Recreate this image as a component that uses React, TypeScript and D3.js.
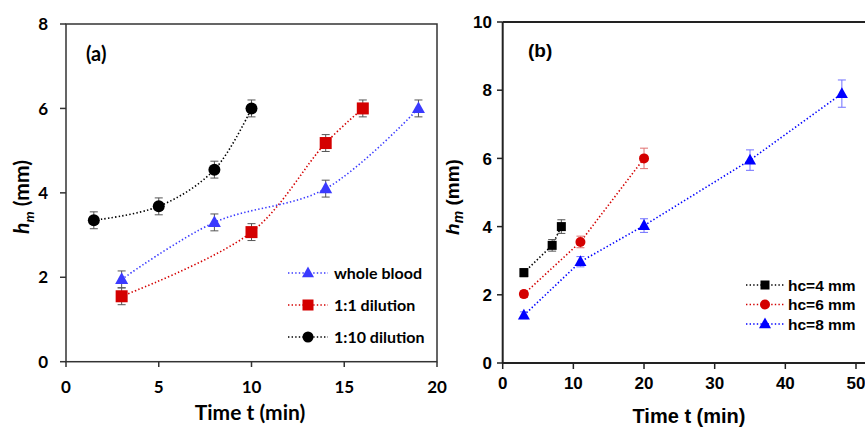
import React from "react";
import * as d3 from "d3";

// Panel (a)
const aWholeT = [3, 8, 14, 19];
const aWholeH = [1.95, 3.3, 4.1, 6.0];
const aWholeE = [0.2, 0.2, 0.2, 0.2];
const a11T = [3, 10, 14, 16];
const a11H = [1.55, 3.07, 5.18, 6.0];
const a11E = [0.2, 0.2, 0.2, 0.2];
const a110T = [1.5, 5, 8, 10];
const a110H = [3.35, 3.68, 4.55, 6.0];
const a110E = [0.2, 0.2, 0.2, 0.2];
const aXTicks = [0, 5, 10, 15, 20];
const aYTicks = [0, 2, 4, 6, 8];
const aLegend = ["whole blood", "1:1 dilution", "1:10 dilution"];

// Panel (b)
const b4T = [3, 7, 8.3];
const b4H = [2.65, 3.45, 4.0];
const b4E = [0.12, 0.17, 0.2];
const b6T = [3, 11, 20];
const b6H = [2.02, 3.55, 6.0];
const b6E = [0.1, 0.17, 0.3];
const b8T = [3, 11, 20, 35, 48];
const b8H = [1.4, 2.97, 4.03, 5.95, 7.9];
const b8E = [0.1, 0.15, 0.2, 0.3, 0.4];
const bXTicks = [0, 10, 20, 30, 40, 50];
const bYTicks = [0, 2, 4, 6, 8, 10];
const bLegend = ["hc=4 mm", "hc=6 mm", "hc=8 mm"];

type Shape = "tri" | "sq" | "circ";

function Marker({ shape, x, y, color, s }: { shape: Shape; x: number; y: number; color: string; s: number }) {
  if (shape === "circ") return <circle cx={x} cy={y} r={s / 2} fill={color} />;
  if (shape === "sq") return <rect x={x - s / 2} y={y - s / 2} width={s} height={s} fill={color} />;
  const h = s * 0.9;
  return <path d={`M${x},${y - h * 0.6} L${x + s / 2},${y + h * 0.4} L${x - s / 2},${y + h * 0.4} Z`} fill={color} />;
}

function Series({ t, h, e, x, y, color, errColor, shape, s, curve }: any) {
  const pts = t.map((v: number, i: number) => [x(v), y(h[i])] as [number, number]);
  const line = d3.line().curve(curve)(pts) || "";
  return (
    <g>
      <path d={line} fill="none" stroke={color} strokeWidth={1.6} strokeDasharray="1.4 2.2" />
      {t.map((v: number, i: number) => {
        const cx = x(v);
        const y1 = y(h[i] + e[i]);
        const y2 = y(h[i] - e[i]);
        return (
          <g key={"e" + i} stroke={errColor} strokeWidth={1}>
            <line x1={cx} x2={cx} y1={y1} y2={y2} />
            <line x1={cx - 4} x2={cx + 4} y1={y1} y2={y1} />
            <line x1={cx - 4} x2={cx + 4} y1={y2} y2={y2} />
          </g>
        );
      })}
      {t.map((v: number, i: number) => (
        <Marker key={"m" + i} shape={shape} x={x(v)} y={y(h[i])} color={color} s={s} />
      ))}
    </g>
  );
}

export default function App() {
  const fa = "Lato, 'Open Sans', sans-serif";
  const fb = "'Liberation Sans', Arial, sans-serif";
  const RED = "#d40000";
  const BLK = "#000";

  // panel a
  const ax = d3.scaleLinear().domain([0, 20]).range([66, 437]);
  const ay = d3.scaleLinear().domain([0, 8]).range([361.7, 24]);
  // panel b
  const bx = d3.scaleLinear().domain([0, 50]).range([502.7, 856]);
  const by = d3.scaleLinear().domain([0, 10]).range([363, 22]);

  const aLegSeries = [
    { color: "#3a3aff", shape: "tri" as Shape, s: 12 },
    { color: RED, shape: "sq" as Shape, s: 11 },
    { color: BLK, shape: "circ" as Shape, s: 11 },
  ];
  const bLegSeries = [
    { color: BLK, shape: "sq" as Shape, s: 9 },
    { color: RED, shape: "circ" as Shape, s: 10 },
    { color: "#0000ff", shape: "tri" as Shape, s: 12 },
  ];

  return (
    <svg width={865} height={427} style={{ position: "absolute", left: 0, top: 0, background: "#fff" }}>
      <rect width={865} height={427} fill="#fff" />
      {/* ---------- Panel a ---------- */}
      <g>
        <rect x={66} y={24} width={437 - 66} height={361.7 - 24} fill="none" stroke="#333" strokeWidth={1.5} />
        {aYTicks.map((v) => (
          <g key={"ay" + v}>
            <line x1={60} x2={66} y1={ay(v)} y2={ay(v)} stroke="#333" strokeWidth={1.5} />
            <text x={48} y={ay(v)} dy="0.36em" textAnchor="end" fontFamily={fa} fontWeight={700} fontSize={17}>{v}</text>
          </g>
        ))}
        {aXTicks.map((v) => (
          <g key={"ax" + v}>
            <line x1={ax(v)} x2={ax(v)} y1={361.7} y2={367} stroke="#333" strokeWidth={1.5} />
            <text x={ax(v)} y={393} textAnchor="middle" fontFamily={fa} fontWeight={700} fontSize={17}>{v}</text>
          </g>
        ))}
        <text x={250} y={420} textAnchor="middle" fontFamily={fa} fontWeight={700} fontSize={21}>Time t (min)</text>
        <text transform="translate(29,197) rotate(-90)" textAnchor="middle" fontFamily={fa} fontWeight={700} fontSize={21}>
          <tspan fontStyle="italic">h</tspan>
          <tspan fontStyle="italic" fontSize={14} dy={5}>m</tspan>
          <tspan dy={-5}> (mm)</tspan>
        </text>
        <text x={86} y={61} fontFamily={fa} fontWeight={700} fontSize={20}>(a)</text>

        <Series t={a110T} h={a110H} e={a110E} x={ax} y={ay} color={BLK} errColor="#555" shape="circ" s={12} curve={d3.curveCatmullRom} />
        <Series t={a11T} h={a11H} e={a11E} x={ax} y={ay} color={RED} errColor="#555" shape="sq" s={12} curve={d3.curveCatmullRom} />
        <Series t={aWholeT} h={aWholeH} e={aWholeE} x={ax} y={ay} color="#3a3aff" errColor="#555" shape="tri" s={13} curve={d3.curveCatmullRom} />

        {aLegend.map((name, i) => {
          const yy = 273 + i * 32;
          const L = aLegSeries[i];
          return (
            <g key={"al" + i}>
              <line x1={288} x2={328} y1={yy} y2={yy} stroke={L.color} strokeWidth={1.6} strokeDasharray="1.4 2.2" />
              <Marker shape={L.shape} x={308} y={yy} color={L.color} s={L.s} />
              <text x={334} y={yy} dy="0.36em" fontFamily={fa} fontWeight={700} fontSize={16}>{name}</text>
            </g>
          );
        })}
      </g>

      {/* ---------- Panel b ---------- */}
      <g>
        <line x1={502.7} x2={502.7} y1={22} y2={363} stroke="#222" strokeWidth={2} />
        <line x1={502.7} x2={865} y1={363} y2={363} stroke="#222" strokeWidth={2} />
        <line x1={502.7} x2={865} y1={22} y2={22} stroke="#222" strokeWidth={2} />
        {bYTicks.map((v) => (
          <g key={"by" + v}>
            <line x1={497} x2={502.7} y1={by(v)} y2={by(v)} stroke="#222" strokeWidth={1.5} />
            <text x={492} y={by(v)} dy="0.36em" textAnchor="end" fontFamily={fb} fontWeight={700} fontSize={17}>{v}</text>
          </g>
        ))}
        {bXTicks.map((v) => (
          <g key={"bx" + v}>
            <line x1={bx(v)} x2={bx(v)} y1={363} y2={369} stroke="#222" strokeWidth={1.5} />
            <text x={bx(v)} y={389} textAnchor="middle" fontFamily={fb} fontWeight={700} fontSize={17}>{v}</text>
          </g>
        ))}
        <text x={689} y={423} textAnchor="middle" fontFamily={fb} fontWeight={700} fontSize={20}>Time t (min)</text>
        <text transform="translate(459,197) rotate(-90)" textAnchor="middle" fontFamily={fb} fontWeight={700} fontSize={19}>
          <tspan fontStyle="italic">h</tspan>
          <tspan fontStyle="italic" fontSize={14} dy={4}>m</tspan>
          <tspan dy={-4}> (mm)</tspan>
        </text>
        <text x={528} y={57} fontFamily={fb} fontWeight={700} fontSize={19}>(b)</text>

        <Series t={b4T} h={b4H} e={b4E} x={bx} y={by} color={BLK} errColor="#555" shape="sq" s={9} curve={d3.curveLinear} />
        <Series t={b6T} h={b6H} e={b6E} x={bx} y={by} color={RED} errColor="#e07070" shape="circ" s={10} curve={d3.curveLinear} />
        <Series t={b8T} h={b8H} e={b8E} x={bx} y={by} color="#0000ff" errColor="#7070ff" shape="tri" s={12} curve={d3.curveLinear} />

        {bLegend.map((name, i) => {
          const yy = 285 + i * 19.5;
          const L = bLegSeries[i];
          return (
            <g key={"bl" + i}>
              <line x1={746} x2={785} y1={yy} y2={yy} stroke={L.color} strokeWidth={1.6} strokeDasharray="1.4 2.2" />
              <Marker shape={L.shape} x={765} y={yy} color={L.color} s={L.s} />
              <text x={788} y={yy} dy="0.36em" fontFamily={fb} fontWeight={700} fontSize={15.5}>{name}</text>
            </g>
          );
        })}
      </g>
    </svg>
  );
}
